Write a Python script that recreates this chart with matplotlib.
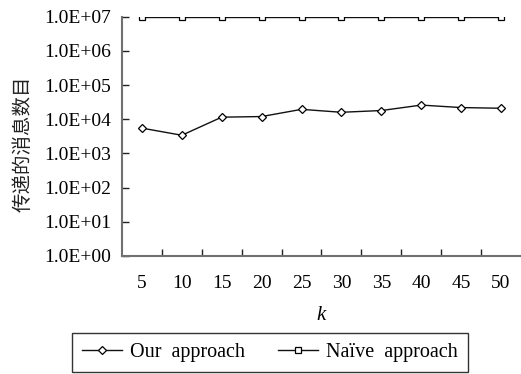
import matplotlib
matplotlib.use("Agg")
import matplotlib.pyplot as plt
from matplotlib.ticker import FixedLocator, FuncFormatter, NullLocator

plt.rcParams['font.family'] = ['Liberation Serif', 'Noto Sans CJK SC']
plt.rcParams['mathtext.fontset'] = 'custom'
plt.rcParams['mathtext.it'] = 'Liberation Serif:italic'

k = [5, 10, 15, 20, 25, 30, 35, 40, 45, 50]
ours = [5.5e3, 3.4e3, 1.15e4, 1.2e4, 1.95e4, 1.6e4, 1.8e4, 2.6e4, 2.2e4, 2.1e4]
naive = [1e7] * 10
labels = ["Our  approach", "Na\u00efve  approach"]

fig = plt.figure(figsize=(5.21, 3.74), dpi=100)
ax = fig.add_axes([0.234, 0.316, 0.766, 0.639])

ax.plot(k, ours, color='#111111', lw=1.0, marker='D', ms=4.5,
        mfc='white', mec='black', mew=0.9, label=labels[0])
ax.plot(k, naive, color='#111111', lw=1.0, marker='s', ms=4.8,
        mfc='white', mec='black', mew=0.9, label=labels[1])

ax.set_yscale('log')
ax.set_ylim(1, 1e7)
ax.set_xlim(2.5, 52.5)

ax.yaxis.set_major_locator(FixedLocator([10.0 ** i for i in range(8)]))
ax.yaxis.set_minor_locator(NullLocator())
ax.yaxis.set_major_formatter(FuncFormatter(lambda v, p: f"{v:.1E}"))

# category-style axis: labels at centres, ticks on the boundaries
ax.set_xticks(k)
ax.set_xticklabels([str(v) for v in k])
ax.set_xticks([v + 2.5 for v in k[:-1]], minor=True)
ax.tick_params(axis='x', which='major', length=0, pad=14, labelsize=14)
ax.tick_params(axis='x', which='minor', direction='in', length=5, width=1, color='#222222')
ax.tick_params(axis='y', direction='in', length=5, width=1, color='#222222',
               labelsize=14, pad=8)

for s in ('top', 'right'):
    ax.spines[s].set_visible(False)
for s in ('left', 'bottom'):
    ax.spines[s].set_color('#707070')
    ax.spines[s].set_linewidth(1.5)

ax.set_xlabel('$k$', fontsize=15, labelpad=10)
fig.text(0.045, 0.615, '传递的消息数目', rotation=90, ha='center', va='center',
         fontsize=14, family=['Noto Sans CJK SC', 'DejaVu Sans'], color='#222222')

leg = fig.legend(loc='center', bbox_to_anchor=(0.518, 0.057), ncol=2,
                 prop={'size': 14.5}, frameon=True, fancybox=False, edgecolor='black',
                 handlelength=2.0, columnspacing=1.6, handletextpad=0.4,
                 borderpad=0.5)
leg.get_frame().set_linewidth(1.0)

fig.savefig('out.png', dpi=100)
